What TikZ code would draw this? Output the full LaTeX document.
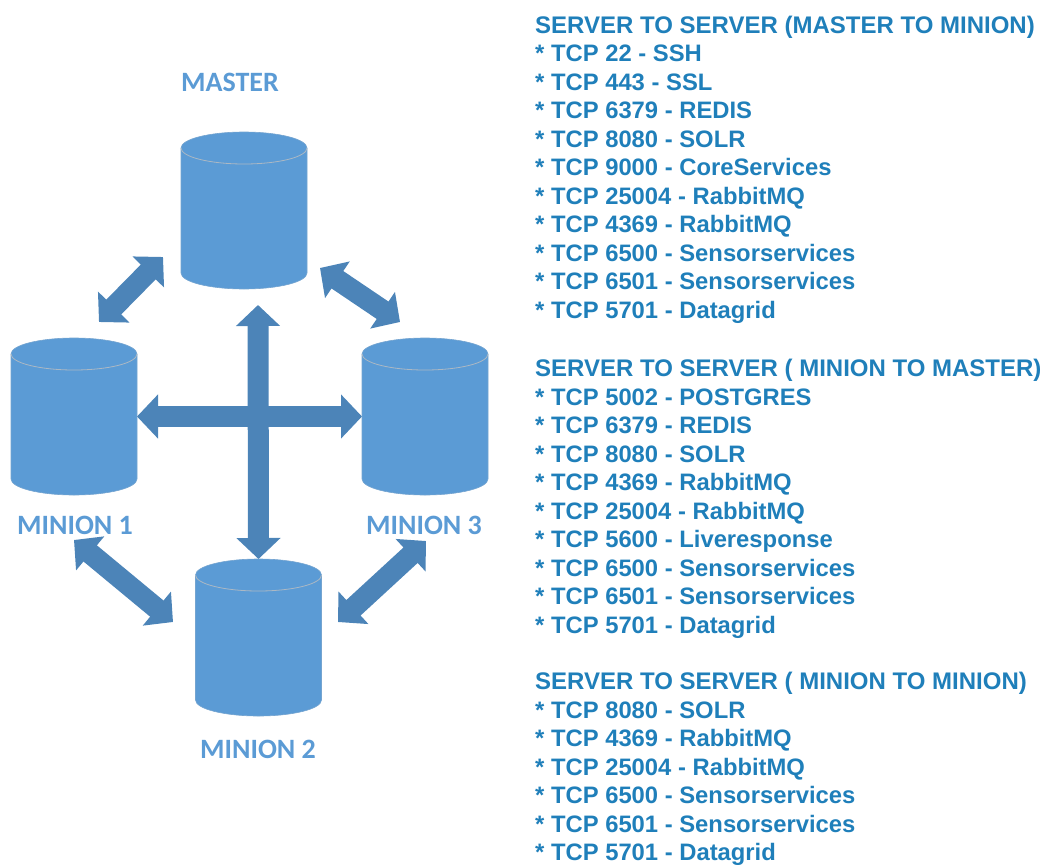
\documentclass[tikz,border=0pt]{standalone}
\usepackage{fontspec}
\setmainfont{Liberation Sans}
\newfontfamily\labelfont{Carlito}
\usetikzlibrary{arrows.meta}
\definecolor{dbblue}{HTML}{5B9BD5}
\definecolor{linkblue}{HTML}{4C84B8}
\definecolor{textblue}{HTML}{1F7FBA}
\newcommand{\entete}[1]{{\fontsize{24}{28.5}\selectfont #1}}
\newcommand{\cuve}[1]{%
\draw[draw=dbblue!75!lightgray, fill=dbblue, line width=0.6pt] ([yshift=-16pt]#1.north west) arc[start angle=180, end angle=0, x radius=63pt, y radius=16pt] -- ([yshift=16pt]#1.south east) arc[start angle=360, end angle=180, x radius=63pt, y radius=16pt] -- cycle;
\draw[draw=lightgray!80!dbblue, line width=0.8pt] ([yshift=-16pt]#1.north west) arc[start angle=180, end angle=360, x radius=63pt, y radius=16pt];}
\begin{document}
\begin{tikzpicture}[x=1pt,y=-1pt]
\tikzset{dbnoeud/.style={minimum width=126pt, minimum height=157pt, inner sep=0pt, outer sep=0pt},
  dblabel/.style={text=dbblue, font=\labelfont\bfseries\fontsize{28}{28}\selectfont, inner sep=0pt},
  portlist/.style={text=textblue, font=\bfseries\fontsize{23.8}{28.5}\selectfont, align=left, anchor=north west, inner sep=0pt},
  liaison/.style={draw=linkblue, line width=21pt, {Triangle[width=43pt,length=21pt]}-{Triangle[width=43pt,length=21pt]}}}
\clip (0, 0) rectangle (1040, 864);
% serveurs
\node[dbnoeud] (Master) at (244, 210.5) {};
\node[dbnoeud] (Minion1) at (74, 416.5) {};
\node[dbnoeud] (Minion3) at (425, 416.5) {};
\node[dbnoeud] (Minion2) at (258.5, 637.5) {};
\cuve{Master}
\cuve{Minion1}
\cuve{Minion3}
\cuve{Minion2}
\node[dblabel] (LMaster) at (230, 82) {MASTER};
\node[dblabel] (LMinion1) at (75, 525) {MINION 1};
\node[dblabel] (LMinion3) at (424, 525) {MINION 3};
\node[dblabel] (LMinion2) at (258, 749) {MINION 2};
% bouts libres des fleches
\coordinate (A1) at (99, 322);
\coordinate (A2) at (163, 257);
\coordinate (B1) at (320, 268);
\coordinate (B2) at (400, 322);
\coordinate (C1) at (74, 540);
\coordinate (C2) at (173, 622);
\coordinate (D1) at (426, 541);
\coordinate (D2) at (338, 622);
\coordinate (F1) at (258, 305);
\draw[liaison] (A1) -- (A2);
\draw[liaison] (B1) -- (B2);
\draw[liaison] (C1) -- (C2);
\draw[liaison] (D1) -- (D2);
\draw[liaison] (Minion1.east) -- (Minion3.west);
\draw[liaison] (F1) -- (Minion2.north);
% ports
\node[portlist] (Ports1) at (535, 15.5) {\entete{SERVER TO SERVER (MASTER TO MINION)}\\
* TCP 22 - SSH\\
* TCP 443 - SSL\\
* TCP 6379 - REDIS\\
* TCP 8080 - SOLR\\
* TCP 9000 - CoreServices\\
* TCP 25004 - RabbitMQ\\
* TCP 4369 - RabbitMQ\\
* TCP 6500 - Sensorservices\\
* TCP 6501 - Sensorservices\\
* TCP 5701 - Datagrid};
\node[portlist] (Ports2) at (535, 359) {\entete{SERVER TO SERVER ( MINION TO MASTER)}\\
* TCP 5002 - POSTGRES\\
* TCP 6379 - REDIS\\
* TCP 8080 - SOLR\\
* TCP 4369 - RabbitMQ\\
* TCP 25004 - RabbitMQ\\
* TCP 5600 - Liveresponse\\
* TCP 6500 - Sensorservices\\
* TCP 6501 - Sensorservices\\
* TCP 5701 - Datagrid};
\node[portlist] (Ports3) at (535, 672) {\entete{SERVER TO SERVER ( MINION TO MINION)}\\
* TCP 8080 - SOLR\\
* TCP 4369 - RabbitMQ\\
* TCP 25004 - RabbitMQ\\
* TCP 6500 - Sensorservices\\
* TCP 6501 - Sensorservices\\
* TCP 5701 - Datagrid};
\end{tikzpicture}
\end{document}
